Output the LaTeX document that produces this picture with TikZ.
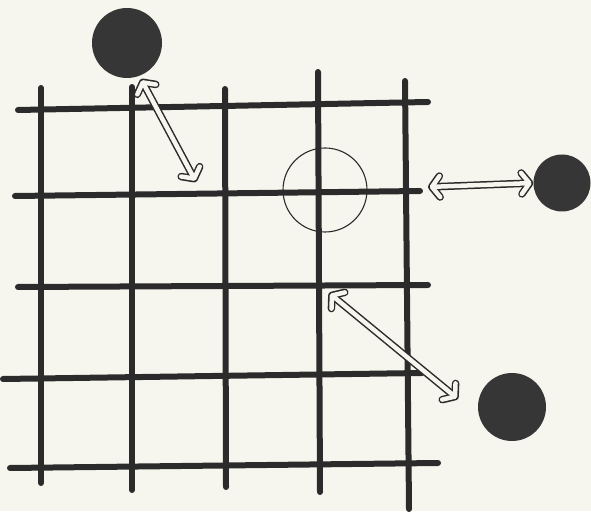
\documentclass[tikz,border=0pt]{standalone}
\usetikzlibrary{arrows.meta}
\definecolor{Ink}{HTML}{2B2B2B}
\definecolor{Paper}{HTML}{F7F6EE}
\definecolor{DotGray}{HTML}{363636}
\tikzset{
  gridline/.style={line width=6pt, draw=Ink, line cap=round},
  dot/.style={circle, fill=DotGray, inner sep=0pt},
  ring/.style={circle, draw=Ink, line width=1.1pt, inner sep=0pt, minimum size=84pt},
  barb/.tip={Straight Barb[length=8pt,width=21pt,round]},
  hollowout/.style={line width=7.5pt, draw=Ink, barb-barb},
  hollowin/.style={line width=4.5pt, draw=Paper, shorten >=1.6pt, shorten <=1.6pt, barb-barb}
}
\newcommand{\hollowarrow}[2]{%
  \draw[hollowout] (#1) -- (#2);
  \draw[hollowin] (#1) -- (#2);
}

\begin{document}
\begin{tikzpicture}[x=1pt,y=1pt]
\useasboundingbox (0,0) rectangle (591,511);
\fill[Paper] (0,0) rectangle (591,511);
% grid
\draw[gridline] (41,423) -- (41,28);
\draw[gridline] (132,424) -- (132,21);
\draw[gridline] (225,422) -- (226,24);
\draw[gridline] (318,439) -- (320,19);
\draw[gridline] (405,430) -- (409,2);
\draw[gridline] (18,401) -- (428,409);
\draw[gridline] (15,315) -- (420,320);
\draw[gridline] (18,224) -- (428,226);
\draw[gridline] (3,132) -- (422,138);
\draw[gridline] (10,43) -- (438,48);
% target and points
\node[ring] (target) at (325,321) {};
\node[dot, minimum size=70pt] (topdot) at (127,468) {};
\node[dot, minimum size=57pt] (rightdot) at (562,328) {};
\node[dot, minimum size=68pt] (lowdot) at (512,104) {};
\coordinate (near1) at (196,329);
\coordinate (near2) at (428,324);
\coordinate (near3) at (329,218);
\coordinate (far1) at (141,432);
\coordinate (far3) at (458,112);
% arrows
\hollowarrow{far1}{near1}
\hollowarrow{near2}{rightdot.west}
\hollowarrow{near3}{far3}
\end{tikzpicture}
\end{document}
